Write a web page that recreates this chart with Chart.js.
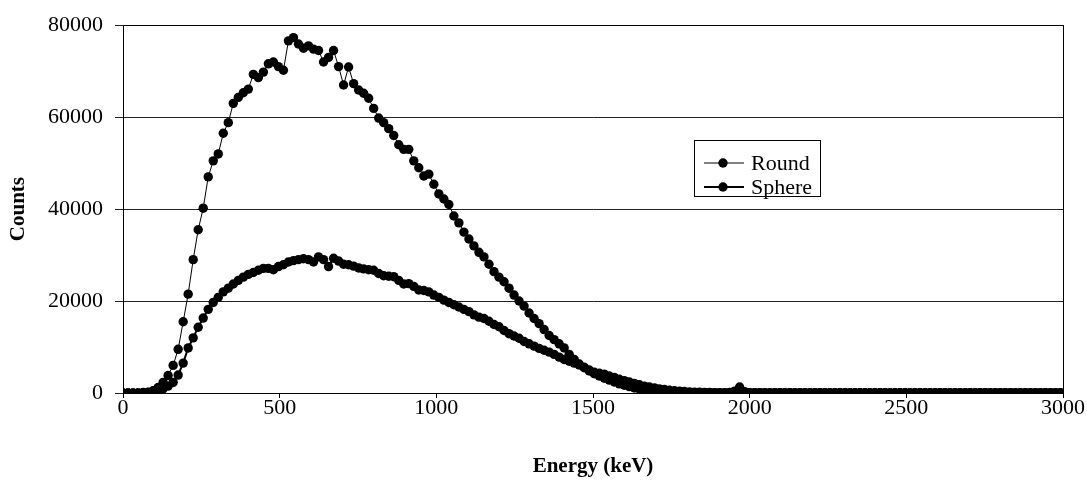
<!DOCTYPE html>
<html>
<head>
<meta charset="utf-8">
<script src="https://cdn.jsdelivr.net/npm/chart.js@4/dist/chart.umd.min.js"></script>
<style>
html, body { margin: 0; padding: 0; background: #fff; }
#wrap { width: 1087px; height: 482px; }
</style>
</head>
<body>
<div id="wrap"><canvas id="chart"></canvas></div>
<script>
// energy of each channel (keV)
const energy = [
  0,16,32,48,64,80,96,112,128,144,160,176,192,208,224,240,256,272,288,304,
  320,336,352,368,384,400,416,432,448,464,480,496,512,528,544,560,576,592,608,624,
  640,656,672,688,704,720,736,752,768,784,800,816,832,848,864,880,896,912,928,944,
  960,976,992,1008,1024,1040,1056,1072,1088,1104,1120,1136,1152,1168,1184,1200,1216,1232,1248,1264,
  1280,1296,1312,1328,1344,1360,1376,1392,1408,1424,1440,1456,1472,1488,1504,1520,1536,1552,1568,1584,
  1600,1616,1632,1648,1664,1680,1696,1712,1728,1744,1760,1776,1792,1808,1824,1840,1856,1872,1888,1904,
  1920,1936,1952,1968,1984,2000,2016,2032,2048,2064,2080,2096,2112,2128,2144,2160,2176,2192,2208,2224,
  2240,2256,2272,2288,2304,2320,2336,2352,2368,2384,2400,2416,2432,2448,2464,2480,2496,2512,2528,2544,
  2560,2576,2592,2608,2624,2640,2656,2672,2688,2704,2720,2736,2752,2768,2784,2800,2816,2832,2848,2864,
  2880,2896,2912,2928,2944,2960,2976,2992
];

// counts, round source
const roundCounts = [
  0,0,0,0,100,200,500,1200,2300,3800,6000,9500,15500,21500,29000,35500,40200,47000,50500,52000,
  56500,58800,63000,64300,65300,66100,69300,68600,69800,71600,72000,71000,70200,76600,77300,75900,75000,75500,74800,74500,
  72000,73000,74500,71000,67000,70900,67300,65900,65200,64100,61900,59800,58800,57500,56000,54000,53000,53000,50500,49000,
  47200,47600,45400,43300,42200,41000,38500,37000,35000,33500,32000,30600,29600,28000,26400,25200,24200,22800,21300,20000,
  18900,17400,16200,15100,13800,12500,11600,10700,9800,8400,7300,6300,5500,4800,4200,3700,3200,2800,2400,2000,
  1700,1400,1100,900,700,550,400,300,250,200,150,120,100,80,70,60,60,50,50,50,
  60,100,400,1300,300,60,50,40,50,50,40,50,50,40,50,50,40,50,40,50,
  50,40,50,50,40,50,50,40,50,50,40,50,40,50,50,40,50,50,40,50,
  50,40,50,50,40,50,50,40,50,40,50,50,40,50,50,40,50,50,40,50,
  50,40,50,50,40,50,50,40
];

// counts, sphere source
const sphereCounts = [
  0,0,0,0,0,100,200,500,900,1500,2300,3900,6500,9800,12000,14300,16300,18200,19700,20800,
  22000,22800,23700,24500,25200,25800,26200,26700,27100,27100,26800,27500,27900,28500,28800,29000,29200,29000,28500,29600,
  29000,27500,29300,28700,28000,27900,27600,27200,27000,26800,26700,26000,25500,25400,25300,24500,23700,23800,23200,22400,
  22300,22000,21300,20800,20200,19700,19200,18700,18200,17700,17000,16500,16200,15600,14900,14400,13600,12900,12400,11900,
  11200,10700,10200,9700,9300,8900,8400,7800,7300,6900,6500,6100,5600,5000,4500,4300,4100,3700,3400,3000,
  2700,2400,2100,1800,1500,1300,1100,900,750,600,500,400,320,250,200,150,120,100,80,70,
  60,60,50,50,60,50,50,60,50,50,60,50,50,60,50,50,60,50,50,60,
  50,50,60,50,50,60,50,50,60,50,50,60,50,50,60,50,50,60,50,50,
  60,50,50,60,50,50,60,50,50,60,50,50,60,50,50,60,50,50,60,50,
  50,60,50,50,60,50,50,60
];

const xTicks = [0, 500, 1000, 1500, 2000, 2500, 3000];
const yTicks = [0, 20000, 40000, 60000, 80000];
const seriesNames = ["Round", "Sphere"];

const serif = "'Liberation Serif', 'Times New Roman', serif";

// plot frame
const framePlugin = {
  id: "frame",
  afterDraw(chart) {
    const { ctx, chartArea: a } = chart;
    ctx.save();
    ctx.strokeStyle = "#000";
    ctx.lineWidth = 1;
    ctx.strokeRect(Math.round(a.left) + 0.5, Math.round(a.top) + 0.5,
      Math.round(a.right - a.left), Math.round(a.bottom - a.top));
    ctx.restore();
  }
};

// legend box inside the plot, excel style
const boxLegend = {
  id: "boxLegend",
  afterDraw(chart) {
    const { ctx } = chart;
    const x0 = 694, y0 = 140, w = 126, h = 56;
    ctx.save();
    ctx.fillStyle = "#fff";
    ctx.fillRect(x0, y0, w, h);
    ctx.strokeStyle = "#000";
    ctx.lineWidth = 1;
    ctx.strokeRect(x0 + 0.5, y0 + 0.5, w, h);
    ctx.font = "22px " + serif;
    ctx.textBaseline = "middle";
    chart.data.datasets.forEach((ds, i) => {
      const y = y0 + 23 + i * 24;
      ctx.strokeStyle = "#000";
      ctx.lineWidth = ds.borderWidth;
      ctx.beginPath();
      ctx.moveTo(x0 + 10, y);
      ctx.lineTo(x0 + 50, y);
      ctx.stroke();
      ctx.fillStyle = "#000";
      ctx.beginPath();
      ctx.arc(x0 + 29, y, 4.7, 0, Math.PI * 2);
      ctx.fill();
      ctx.fillText(ds.label, x0 + 57, y + 1);
    });
    ctx.restore();
  }
};

const pts = (vals) => energy.map((e, i) => ({ x: e, y: vals[i] }));

new Chart(document.getElementById("chart"), {
  type: "line",
  data: {
    datasets: [
      {
        label: seriesNames[0],
        data: pts(roundCounts),
        borderColor: "#000",
        borderWidth: 1,
        backgroundColor: "#000",
        pointRadius: 4.7,
        pointBorderWidth: 0,
        tension: 0
      },
      {
        label: seriesNames[1],
        data: pts(sphereCounts),
        borderColor: "#000",
        borderWidth: 2,
        backgroundColor: "#000",
        pointRadius: 4.7,
        pointBorderWidth: 0,
        tension: 0
      }
    ]
  },
  options: {
    responsive: true,
    maintainAspectRatio: false,
    animation: false,
    events: [],
    layout: { padding: { top: 20, right: 24, left: 0, bottom: 0 } },
    plugins: {
      legend: { display: false },
      tooltip: { enabled: false }
    },
    scales: {
      x: {
        type: "linear",
        min: 0,
        max: 3000,
        afterFit: (s) => { s.height = 89; },
        afterBuildTicks: (s) => { s.ticks = xTicks.map(v => ({ value: v })); },
        ticks: {
          color: "#000",
          font: { family: serif, size: 22 },
          padding: -3,
          maxRotation: 0,
          callback: (v) => String(v)
        },
        grid: { drawOnChartArea: false, drawTicks: true, tickLength: 5, color: "#000" },
        border: { display: true, color: "#000", width: 1 },
        title: {
          display: true,
          text: "Energy (keV)",
          color: "#000",
          font: { family: serif, size: 21, weight: "bold" },
          padding: { top: 0, bottom: 3 }
        }
      },
      y: {
        min: 0,
        max: 80000,
        afterFit: (s) => { s.width = 123; },
        afterBuildTicks: (s) => { s.ticks = yTicks.map(v => ({ value: v })); },
        ticks: {
          color: "#000",
          font: { family: serif, size: 22 },
          padding: 12,
          callback: (v) => String(v)
        },
        grid: { color: "#222", lineWidth: 1, tickLength: 8 },
        border: { display: true, color: "#000", width: 1 },
        title: {
          display: true,
          text: "Counts",
          color: "#000",
          font: { family: serif, size: 21, weight: "bold" },
          padding: { top: 6, bottom: 0 }
        }
      }
    }
  },
  plugins: [framePlugin, boxLegend]
});
</script>
</body>
</html>
